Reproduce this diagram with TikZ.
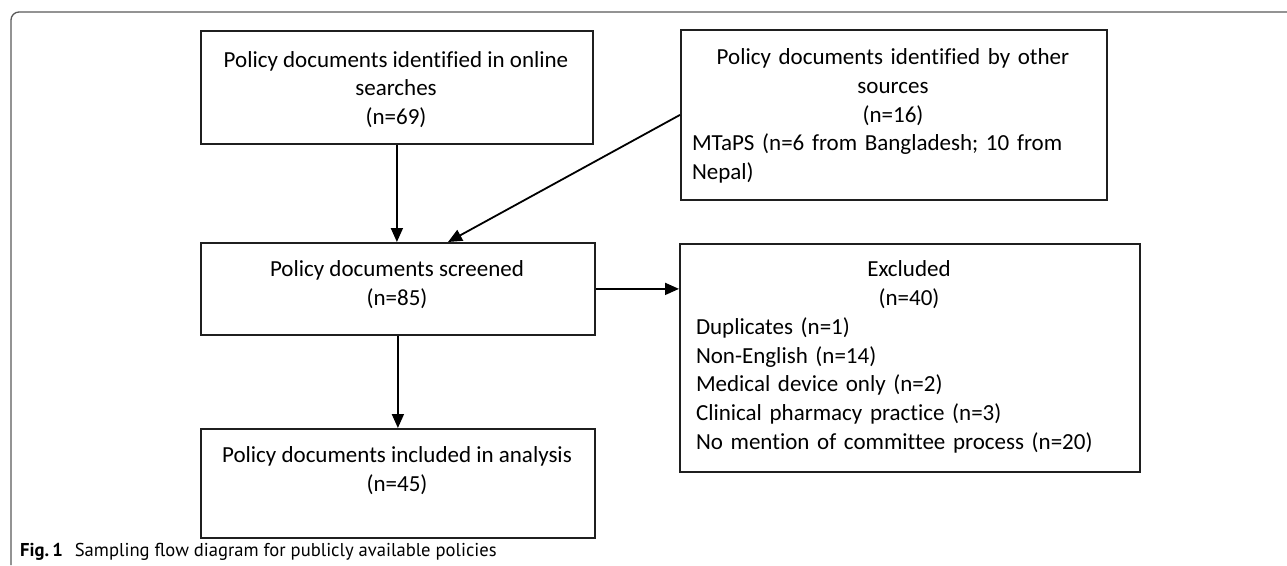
\documentclass[tikz,border=0pt]{standalone}
\usepackage{fontspec}
\setmainfont{Carlito}[Ligatures=CommonOff]
\newfontfamily\capfont{PT Sans}
\usetikzlibrary{arrows.meta,calc}
\begin{document}
\begin{tikzpicture}[x=1pt,y=-1pt,
  box/.style={draw=black!88, line width=1.8pt, anchor=north west, inner sep=0pt},
  txt/.style={inner sep=0pt, font=\fontsize{23}{28.8}\selectfont, align=center},
  mixtxt/.style={inner sep=0pt, font=\fontsize{23}{28.8}\selectfont, align=left},
  arr/.style={draw=black, line width=1.8pt, -{Triangle[length=14pt,width=12pt]}},
  frameline/.style={draw=black!65, line width=1.3pt}]
\useasboundingbox (0,0) rectangle (1287,565);
\draw[frameline, rounded corners=8pt] (11,565) -- (11,12) -- (1290,12);

\node[box, minimum width=392pt, minimum height=113pt] (b1) at (200,30) {};
\node[box, minimum width=426pt, minimum height=170pt] (b2) at (680,29) {};
\node[box, minimum width=394pt, minimum height=92pt] (b3) at (200,242) {};
\node[box, minimum width=460pt, minimum height=228pt] (b4) at (679,243) {};
\node[box, minimum width=394pt, minimum height=109pt] (b5) at (200,428) {};

\node[txt] (t1) at (396,89.5) {Policy documents identified in online\\searches\\(n=69)};
\node[mixtxt, text width=402pt] (t2) at (893,116) {{\centering Policy documents identified by other\\sources\\(n=16)\par}MTaPS (n=6 from Bangladesh; 10 from\\Nepal)};
\node[txt] (t3) at (397,285) {Policy documents screened\\(n=85)};
\node[mixtxt, text width=426pt] (t4) at (909,357) {{\centering Excluded\\(n=40)\par}Duplicates (n=1)\\Non-English (n=14)\\Medical device only (n=2)\\Clinical pharmacy practice (n=3)\\No mention of committee process (n=20)};
\node[txt] (t5) at (397,471) {Policy documents included in analysis\\(n=45)};

\coordinate (d3) at ($(b3.north west)+(248,0)$);
\draw[arr] (b1.south) -- (b1.south |- b3.north);
\draw[arr] (b2.west) -- (d3);
\draw[arr] (b3.east) -- (b3.east -| b4.west);
\draw[arr] (b3.south) -- (b5.north);

\node[anchor=base west, inner sep=0pt] (cap) at (20,556) {\capfont\fontsize{18.6}{21}\selectfont\textbf{Fig.\,1}\hspace{12pt}Sampling flow diagram for publicly available policies};
\end{tikzpicture}
\end{document}
